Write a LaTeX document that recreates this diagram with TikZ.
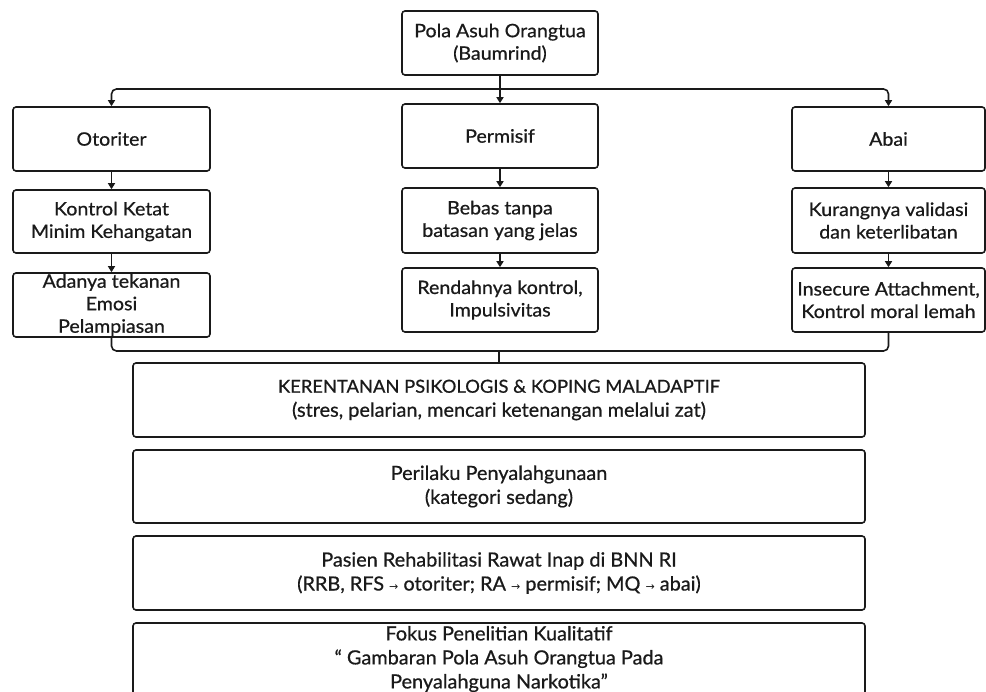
\documentclass[tikz,border=0pt]{standalone}
\usepackage{fontspec}
\setmainfont{Lato}[FakeBold=0.7,FakeStretch=1.06]
\newfontfamily\lowf{Lato}[FakeStretch=1.02,FakeBold=0.7]
\newfontfamily\capf{Lato}[FakeBold=0.7,FakeStretch=1.02]
\newfontfamily\dv{DejaVu Sans}
\usetikzlibrary{arrows.meta}
\definecolor{ink}{HTML}{1A1A1A}
\newcommand{\rarr}{{\dv\fontsize{11}{11}\selectfont →}}
\newcommand{\capline}[1]{{\capf\fontsize{18}{24}\selectfont #1}}
\begin{document}
\begin{tikzpicture}[x=1pt,y=-1pt,
  box/.style={draw=ink, text=ink, line width=1.6pt, rounded corners=3pt, align=center, inner sep=0pt,
    font=\fontsize{18.5}{22.5}\selectfont},
  colbox/.style={box, minimum width=196pt, minimum height=64pt},
  widebox/.style={box, minimum width=732pt, minimum height=74pt, font=\lowf\fontsize{19.5}{24}\selectfont},
  conn/.style={draw=ink, line width=1.6pt},
  arr/.style={conn, -{Triangle[length=6pt,width=7pt]}}]
\useasboundingbox (0,0) rectangle (986,692);

\node[colbox] (top) at (500,43) {Pola Asuh Orangtua\\(Baumrind)};

\node[colbox, minimum width=197pt] (otor) at (111.5,139) {Otoriter};
\node[colbox, minimum width=197pt, minimum height=63pt] (kont) at (111.5,221.5) {Kontrol Ketat\\Minim Kehangatan};
\node[colbox, minimum width=197pt] (adan) at (111.5,305) {Adanya tekanan\\Emosi\\Pelampiasan};

\node[colbox] (perm) at (500,136) {Permisif};
\node[colbox, minimum height=65pt] (beb) at (500,220.5) {Bebas tanpa\\batasan yang jelas};
\node[colbox] (rend) at (500,300) {Rendahnya kontrol,\\Impulsivitas};

\node[colbox, minimum width=193pt] (abai) at (888.5,139) {Abai};
\node[colbox, minimum width=193pt, minimum height=65pt] (kur) at (888.5,220.5) {Kurangnya validasi\\dan keterlibatan};
\node[colbox, minimum width=193pt] (ins) at (888.5,300) {Insecure Attachment,\\Kontrol moral lemah};

\node[widebox] (ker) at (499,400) {\capline{KERENTANAN PSIKOLOGIS \& KOPING MALADAPTIF}\\(stres, pelarian, mencari ketenangan melalui zat)};
\node[widebox, minimum height=73pt] (per) at (499,486.5) {Perilaku Penyalahgunaan\\(kategori sedang)};
\node[widebox] (pas) at (499,573) {Pasien Rehabilitasi Rawat Inap di BNN RI\\(RRB, RFS \rarr{} otoriter; RA \rarr{} permisif; MQ \rarr{} abai)};
\node[widebox, minimum height=72pt] (fok) at (499,659) {Fokus Penelitian Kualitatif\\“ Gambaran Pola Asuh Orangtua Pada\\Penyalahguna Narkotika”};

\coordinate (hb) at (500,89);
\draw[arr, rounded corners=5pt] (hb) -| (otor.north);
\draw[arr, rounded corners=5pt] (hb) -| (abai.north);
\draw[arr] (top.south) -- (perm.north);

\draw[arr] (otor) -- (kont);
\draw[arr] (kont) -- (adan);
\draw[arr] (perm) -- (beb);
\draw[arr] (beb) -- (rend);
\draw[arr] (abai) -- (kur);
\draw[arr] (kur) -- (ins);

\coordinate (hl) at (499,351);
\draw[conn, rounded corners=5pt] (adan.south) |- (hl) -| (ins.south);
\draw[conn] (hl) -- (ker.north);
\end{tikzpicture}
\end{document}
